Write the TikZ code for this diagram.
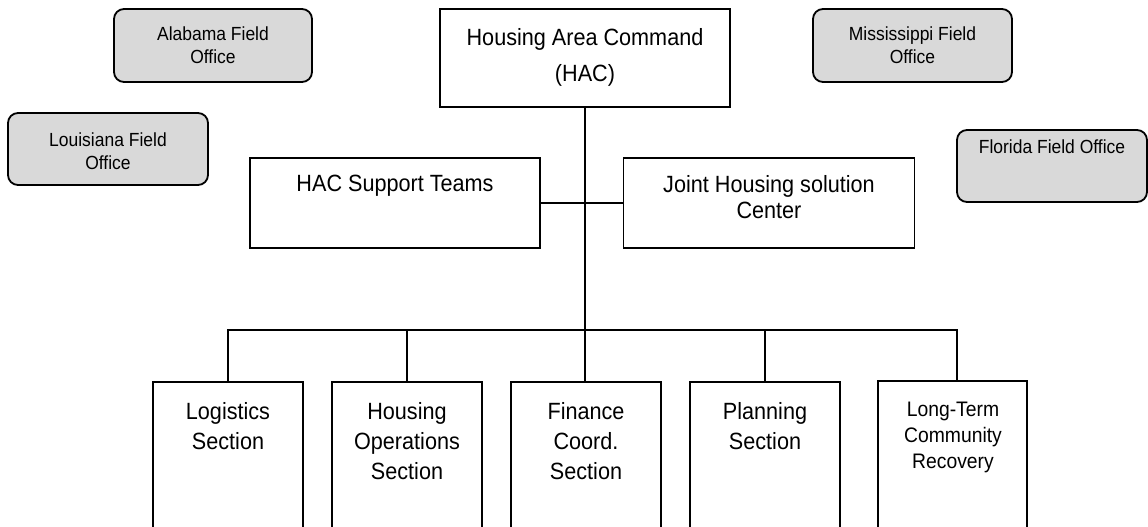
\documentclass[tikz,border=0pt]{standalone}
\usepackage{fontspec}
\setmainfont{Liberation Sans}[FakeStretch=0.92]
\begin{document}
\begin{tikzpicture}[x=1pt,y=-1pt,
  box/.style={draw,line width=1.8pt,rectangle,inner sep=0pt},
  office/.style={box,rounded corners=10pt,fill=gray!30},
  section/.style={box,minimum width=150pt,minimum height=230pt},
  label/.style={anchor=north,inner sep=0pt,align=center},
  big/.style={label,font=\fontsize{23.5}{30}\selectfont},
  link/.style={line width=1.8pt}]
\useasboundingbox (0,0) rectangle (1148,527);
\clip (0,0) rectangle (1148,527);

% command box and its staff
\node[box,minimum width=290pt,minimum height=98pt] (hac) at (585,58) {};
\node[label,font=\fontsize{23.5}{36}\selectfont] (hact) at (585,28) {Housing Area Command\\(HAC)};

\node[box,minimum width=290pt,minimum height=90pt] (sup) at (395,203) {};
\node[big] (supt) at (395,175) {HAC Support Teams};

\node[box,minimum width=291pt,minimum height=90pt] (jhs) at (769,203) {};
\node[label,font=\fontsize{23.5}{26.5}\selectfont] (jhst) at (769,175) {Joint Housing solution\\Center};

% field offices
\node[office,minimum width=198pt,minimum height=73pt] (al) at (213,45.5) {};
\node[label,font=\fontsize{19}{23}\selectfont] (alt) at (213,27) {Alabama Field\\Office};

\node[office,minimum width=200pt,minimum height=72pt] (la) at (108,149) {};
\node[label,font=\fontsize{19}{23}\selectfont] (lat) at (108,133) {Louisiana Field\\Office};

\node[office,minimum width=199pt,minimum height=73pt] (ms) at (912.5,45.5) {};
\node[label,font=\fontsize{19}{23}\selectfont] (mst) at (912.5,27) {Mississippi Field\\Office};

\node[office,minimum width=190pt,minimum height=72pt] (fl) at (1052,166) {};
\node[label,font=\fontsize{19}{23}\selectfont] (flt) at (1052,140) {Florida Field Office};

% sections
\node[section] (log) at (228,497) {};
\node[big] (logt) at (228,402) {Logistics\\Section};

\node[section] (hop) at (407,497) {};
\node[big] (hopt) at (407,402) {Housing\\Operations\\Section};

\node[section] (fin) at (586,497) {};
\node[big] (fint) at (586,402) {Finance\\Coord.\\Section};

\node[section] (pln) at (765,497) {};
\node[big] (plnt) at (765,402) {Planning\\Section};

\node[section,minimum width=149pt] (ltc) at (952.5,496) {};
\node[label,font=\fontsize{21}{26}\selectfont] (ltct) at (953,402) {Long-Term\\Community\\Recovery};

% connectors
\coordinate (bus) at (585,330);
\coordinate (ltcdrop) at ([xshift=4.5pt]ltc.north);
\draw[link] (hac.south) -- (hac.south |- fin.north);
\draw[link] (sup.east) -- (jhs.west);
\draw[link] (log.north) -- (log.north |- bus) -- (ltcdrop |- bus) -- (ltcdrop);
\draw[link] (hop.north) -- (hop.north |- bus);
\draw[link] (pln.north) -- (pln.north |- bus);
\end{tikzpicture}
\end{document}
